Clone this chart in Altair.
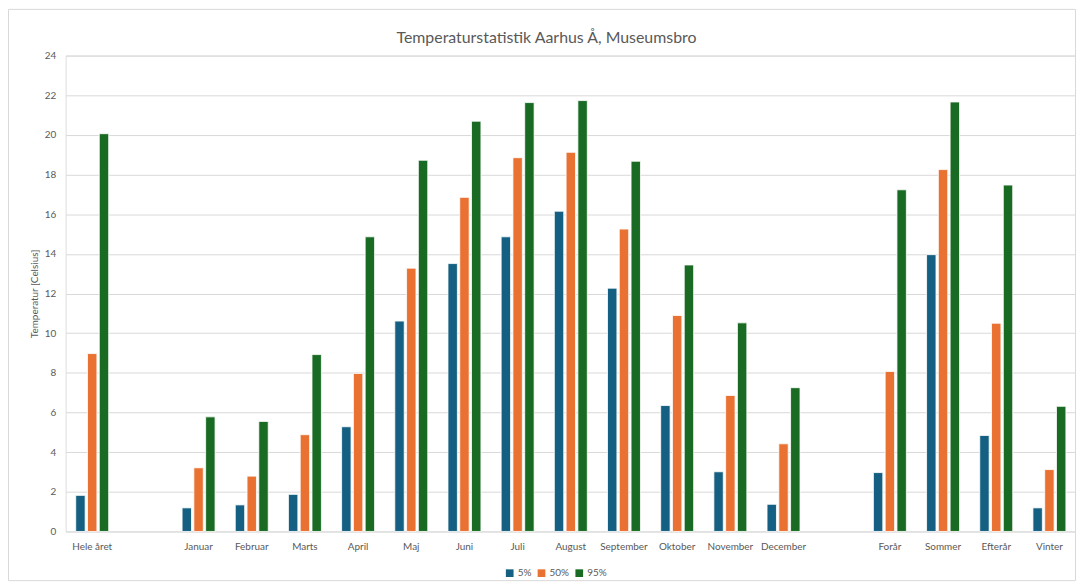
import altair as alt
import pandas as pd

# x slots, including two empty gap slots
slots = ["Hele året", "gap1", "Januar", "Februar", "Marts", "April", "Maj", "Juni",
         "Juli", "August", "September", "Oktober", "November", "December", "gap2",
         "Forår", "Sommer", "Efterår", "Vinter"]
categories = ["Hele året", "Januar", "Februar", "Marts", "April", "Maj", "Juni",
              "Juli", "August", "September", "Oktober", "November", "December",
              "Forår", "Sommer", "Efterår", "Vinter"]
p5 = [1.82, 1.19, 1.34, 1.87, 5.28, 10.61, 13.51, 14.86, 16.15, 12.27, 6.35, 3.01, 1.37,
      2.97, 13.96, 4.84, 1.19]
p50 = [8.97, 3.21, 2.79, 4.88, 7.97, 13.28, 16.85, 18.85, 19.12, 15.25, 10.89, 6.86, 4.42,
       8.07, 18.25, 10.50, 3.12]
p95 = [20.06, 5.78, 5.55, 8.92, 14.86, 18.72, 20.69, 21.63, 21.73, 18.67, 13.44, 10.52, 7.25,
       17.23, 21.66, 17.47, 6.31]
series = ["5%", "50%", "95%"]
colors = ["#156082", "#E97132", "#196B24"]
y_ticks = list(range(0, 25, 2))
title_text = "Temperaturstatistik Aarhus Å, Museumsbro"

rows = []
for s, vals in zip(series, [p5, p50, p95]):
    for c, v in zip(categories, vals):
        rows.append({"Kategori": c, "Serie": s, "Temperatur": v})
df = pd.DataFrame(rows)

grey = "#595959"
font = "Lato"

bars = alt.Chart(df).mark_bar(stroke="white", strokeWidth=0.8).encode(
    x=alt.X("Kategori:N", sort=slots,
            scale=alt.Scale(domain=slots, paddingInner=0.38, paddingOuter=0.19),
            axis=alt.Axis(title=None, labelAngle=0, ticks=False, domain=False,
                          labelExpr="indexof(datum.value, 'gap') == 0 ? '' : datum.value",
                          labelColor=grey, labelFontSize=10, labelPadding=10, labelFont=font)),
    xOffset=alt.XOffset("Serie:N", sort=series, scale=alt.Scale(paddingInner=0.2)),
    y=alt.Y("Temperatur:Q", scale=alt.Scale(domain=[0, 24], nice=False),
            axis=alt.Axis(values=y_ticks, title="Temperatur [Celsius]", titleFontSize=10,
                          titleFontWeight="normal", titleColor=grey, titleFont=font,
                          titlePadding=5, labelColor=grey, labelFontSize=10, labelFont=font,
                          labelPadding=10, ticks=False, domain=False,
                          gridColor="#d9d9d9", gridWidth=1)),
    color=alt.Color("Serie:N", scale=alt.Scale(domain=series, range=colors),
                    legend=alt.Legend(title=None, orient="none", direction="horizontal",
                                      legendX=442, legendY=516, symbolType="square",
                                      symbolSize=60, symbolStrokeWidth=0,
                                      labelFontSize=10, labelColor=grey, labelFont=font,
                                      columnPadding=5, labelOffset=3)),
)

frame = alt.Chart(pd.DataFrame({"a": [0]})).mark_rect(fill=None, stroke="#d9d9d9", strokeWidth=1).encode(
    x=alt.value(-57.5), x2=alt.value(1016.5), y=alt.value(-46.5), y2=alt.value(528.5)
)

title = alt.Chart(pd.DataFrame({"t": [title_text]})).mark_text(
    fontSize=16, font=font, color=grey, align="center", baseline="middle"
).encode(x=alt.value(484), y=alt.value(-18), text="t:N")

chart = alt.layer(frame, bars, title).properties(
    width=1017, height=479,
    padding={"left": 58, "top": 46, "right": 0, "bottom": 50},
    autosize=alt.AutoSizeParams(type="none"),
).configure_view(stroke=None).configure(font=font)

chart.save("out.html", embed_options={"renderer": "svg", "actions": False})
